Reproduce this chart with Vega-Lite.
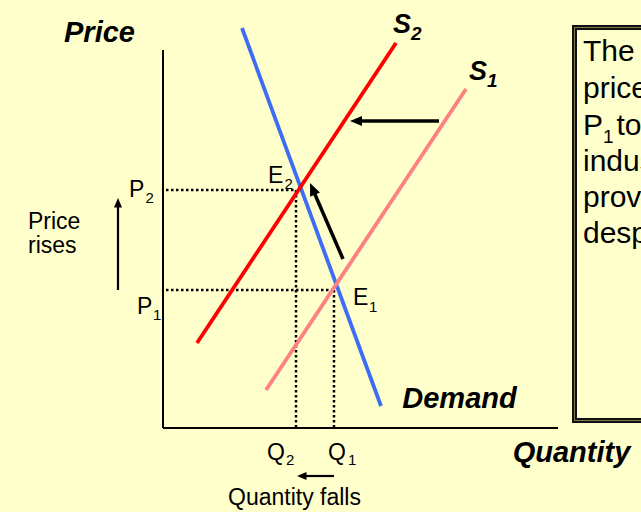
{
  "$schema": "https://vega.github.io/schema/vega-lite/v6.json",
  "width": 641,
  "height": 512,
  "autosize": {"type": "fit", "contains": "padding"},
  "padding": 0,
  "background": "#FFFFCC",
  "config": {"view": {"stroke": null}, "text": {"font": "Liberation Sans", "color": "black"}},
  "datasets": {
    "box": [{"x": 41.15, "y": 40.05, "x2": 52, "y2": 0.75}],
    "boxText": [
      {"label": "The", "x": 42.0, "y": 36.7},
      {"label": "price", "x": 42.0, "y": 33.0},
      {"label": "P", "x": 42.0, "y": 29.3},
      {"label": "to", "x": 45.35, "y": 29.3},
      {"label": "industry", "x": 42.0, "y": 25.7},
      {"label": "provided", "x": 42.0, "y": 22.1},
      {"label": "despite", "x": 42.0, "y": 18.5}
    ],
    "boxSubs": [{"label": "1", "x": 44.0, "y": 28.5}],
    "axes": [
      {"x": 0, "y": 0, "x2": 0, "y2": 37.8},
      {"x": 0, "y": 0, "x2": 39.5, "y2": 0}
    ],
    "dotted": [
      {"x": 0.3, "y": 23.8, "x2": 13.3, "y2": 23.8},
      {"x": 13.3, "y": 23.8, "x2": 13.3, "y2": 0},
      {"x": 0.3, "y": 13.8, "x2": 17.1, "y2": 13.8},
      {"x": 17.1, "y": 13.8, "x2": 17.1, "y2": 0}
    ],
    "curves": [
      {"series": "Demand", "x": 7.9, "y": 40.0, "x2": 21.8, "y2": 2.2},
      {"series": "S2", "x": 3.4, "y": 8.5, "x2": 23.3, "y2": 38.5},
      {"series": "S1", "x": 10.3, "y": 3.8, "x2": 30.3, "y2": 33.9}
    ],
    "thickShafts": [
      {"x": 27.6, "y": 30.7, "x2": 19.6, "y2": 30.7},
      {"x": 18.0, "y": 16.9, "x2": 15.06, "y2": 23.67}
    ],
    "thinShafts": [
      {"x": -4.5, "y": 13.8, "x2": -4.5, "y2": 22.2},
      {"x": 17.1, "y": -4.8, "x2": 14.2, "y2": -4.8}
    ],
    "headLeftThick": [{"x": 18.7, "y": 30.7}],
    "headDiag": [{"x": 14.7, "y": 24.5}],
    "headUpThin": [{"x": -4.5, "y": 23.0}],
    "headLeftThin": [{"x": 13.4, "y": -4.8}],
    "titles": [
      {"label": "Price", "x": -6.35, "y": 38.6},
      {"label": "Demand", "x": 29.65, "y": 2.0},
      {"label": "Quantity", "x": 40.85, "y": -3.4}
    ],
    "curveNames": [
      {"label": "S", "x": 23.0, "y": 39.5},
      {"label": "S", "x": 30.6, "y": 34.8}
    ],
    "curveSubs": [
      {"label": "2", "x": 24.8, "y": 38.8},
      {"label": "1", "x": 32.4, "y": 34.1}
    ],
    "points": [
      {"label": "P", "x": -3.4, "y": 23.1},
      {"label": "P", "x": -2.6, "y": 11.4},
      {"label": "E", "x": 10.5, "y": 24.5},
      {"label": "E", "x": 19.0, "y": 12.3},
      {"label": "Q", "x": 10.4, "y": -3.2},
      {"label": "Q", "x": 16.5, "y": -3.2}
    ],
    "pointSubs": [
      {"label": "2", "x": -1.75, "y": 22.5},
      {"label": "1", "x": -1.0, "y": 10.8},
      {"label": "2", "x": 12.15, "y": 23.9},
      {"label": "1", "x": 20.6, "y": 11.6},
      {"label": "2", "x": 12.3, "y": -3.7},
      {"label": "1", "x": 18.5, "y": -3.7}
    ],
    "notesLeft": [
      {"label": "Price", "x": -13.5, "y": 19.9},
      {"label": "rises", "x": -13.5, "y": 17.5}
    ],
    "notesCenter": [
      {"label": "Quantity falls", "x": 13.15, "y": -7.7}
    ]
  },
  "encoding": {
    "x": {"field": "x", "type": "quantitative", "scale": {"domain": [-16.3, 47.8], "nice": false, "zero": false}, "axis": null},
    "y": {"field": "y", "type": "quantitative", "scale": {"domain": [-8.4, 42.8], "nice": false, "zero": false}, "axis": null}
  },
  "layer": [
    {
      "data": {"name": "box"},
      "mark": {"type": "rect", "fill": "#FFFFCC", "stroke": "#111111", "strokeWidth": 5, "clip": true},
      "encoding": {"x2": {"field": "x2"}, "y2": {"field": "y2"}}
    },
    {
      "data": {"name": "box"},
      "mark": {"type": "rect", "fillOpacity": 0, "stroke": "#7a7a4a", "strokeWidth": 1, "clip": true},
      "encoding": {"x2": {"field": "x2"}, "y2": {"field": "y2"}}
    },
    {
      "data": {"name": "boxText"},
      "mark": {"type": "text", "align": "left", "baseline": "alphabetic", "fontSize": 30, "clip": true},
      "encoding": {"text": {"field": "label"}}
    },
    {
      "data": {"name": "boxSubs"},
      "mark": {"type": "text", "align": "left", "baseline": "alphabetic", "fontSize": 19, "clip": true},
      "encoding": {"text": {"field": "label"}}
    },
    {
      "data": {"name": "axes"},
      "mark": {"type": "rule", "color": "black", "strokeWidth": 2},
      "encoding": {"x2": {"field": "x2"}, "y2": {"field": "y2"}}
    },
    {
      "data": {"name": "dotted"},
      "mark": {"type": "rule", "color": "black", "strokeWidth": 2.5, "strokeDash": [2.5, 2.5]},
      "encoding": {"x2": {"field": "x2"}, "y2": {"field": "y2"}}
    },
    {
      "data": {"name": "curves"},
      "mark": {"type": "rule", "strokeWidth": 3.8},
      "encoding": {
        "x2": {"field": "x2"},
        "y2": {"field": "y2"},
        "color": {"field": "series", "type": "nominal", "scale": {"domain": ["Demand", "S1", "S2"], "range": ["#3D6CF5", "#FF8080", "#FF0000"]}, "legend": null}
      }
    },
    {
      "data": {"name": "thickShafts"},
      "mark": {"type": "rule", "color": "black", "strokeWidth": 3.5},
      "encoding": {"x2": {"field": "x2"}, "y2": {"field": "y2"}}
    },
    {
      "data": {"name": "thinShafts"},
      "mark": {"type": "rule", "color": "black", "strokeWidth": 2.2},
      "encoding": {"x2": {"field": "x2"}, "y2": {"field": "y2"}}
    },
    {
      "data": {"name": "headLeftThick"},
      "mark": {"type": "point", "shape": "M0,0L0.85,2L-0.85,2Z", "size": 144, "filled": true, "color": "black", "opacity": 1, "angle": 270}
    },
    {
      "data": {"name": "headDiag"},
      "mark": {"type": "point", "shape": "M0,0L0.85,2L-0.85,2Z", "size": 160, "filled": true, "color": "black", "opacity": 1, "angle": 336.5}
    },
    {
      "data": {"name": "headUpThin"},
      "mark": {"type": "point", "shape": "M0,0L0.85,2L-0.85,2Z", "size": 90, "filled": true, "color": "black", "opacity": 1, "angle": 0}
    },
    {
      "data": {"name": "headLeftThin"},
      "mark": {"type": "point", "shape": "M0,0L0.85,2L-0.85,2Z", "size": 90, "filled": true, "color": "black", "opacity": 1, "angle": 270}
    },
    {
      "data": {"name": "titles"},
      "mark": {"type": "text", "align": "center", "baseline": "alphabetic", "fontSize": 29, "fontWeight": "bold", "fontStyle": "italic"},
      "encoding": {"text": {"field": "label"}}
    },
    {
      "data": {"name": "curveNames"},
      "mark": {"type": "text", "align": "left", "baseline": "alphabetic", "fontSize": 27, "fontWeight": "bold", "fontStyle": "italic"},
      "encoding": {"text": {"field": "label"}}
    },
    {
      "data": {"name": "curveSubs"},
      "mark": {"type": "text", "align": "left", "baseline": "alphabetic", "fontSize": 19, "fontWeight": "bold", "fontStyle": "italic"},
      "encoding": {"text": {"field": "label"}}
    },
    {
      "data": {"name": "points"},
      "mark": {"type": "text", "align": "left", "baseline": "alphabetic", "fontSize": 23},
      "encoding": {"text": {"field": "label"}}
    },
    {
      "data": {"name": "pointSubs"},
      "mark": {"type": "text", "align": "left", "baseline": "alphabetic", "fontSize": 15},
      "encoding": {"text": {"field": "label"}}
    },
    {
      "data": {"name": "notesLeft"},
      "mark": {"type": "text", "align": "left", "baseline": "alphabetic", "fontSize": 23},
      "encoding": {"text": {"field": "label"}}
    },
    {
      "data": {"name": "notesCenter"},
      "mark": {"type": "text", "align": "center", "baseline": "alphabetic", "fontSize": 23},
      "encoding": {"text": {"field": "label"}}
    }
  ]
}
